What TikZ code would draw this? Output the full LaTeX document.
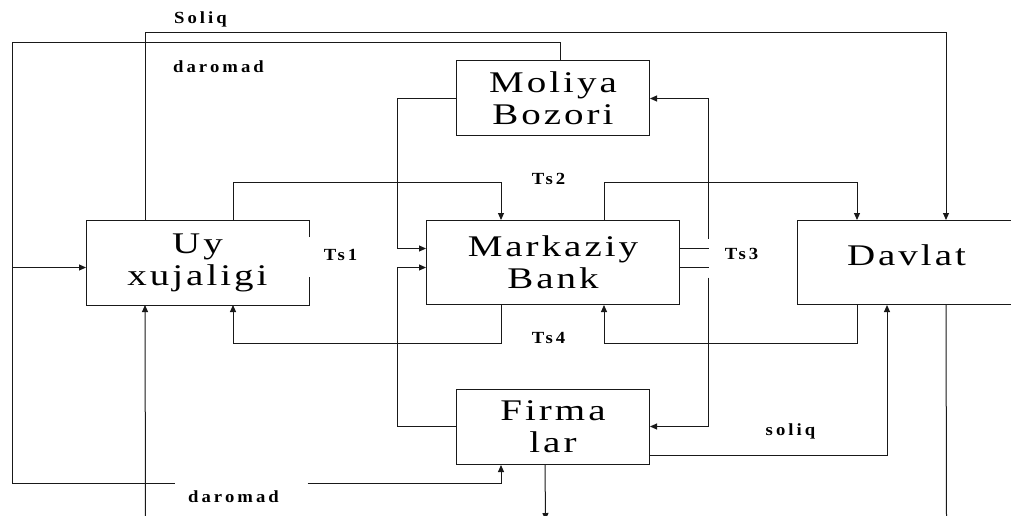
\documentclass[tikz,border=0pt]{standalone}
\usepackage{fontspec}
\setmainfont{Liberation Serif}
\newfontfamily\boxfont[FakeStretch=1.3, LetterSpace=10]{Liberation Serif}
\newfontfamily\tagfont[FakeStretch=1.1, LetterSpace=18]{Liberation Serif}
\usetikzlibrary{arrows.meta,calc}

\tikzset{
  wire/.style={line width=1pt, draw=black!90},
  arr/.style={wire, -{Triangle[length=7pt,width=6pt]}},
  unit/.style={wire, inner sep=0pt, align=center,
               font=\boxfont\fontsize{30}{32}\selectfont},
  tag/.style={inner sep=0pt, font=\tagfont\bfseries\fontsize{17}{19}\selectfont}
}

\begin{document}
\begin{tikzpicture}[x=1pt, y=-1pt]
  \useasboundingbox (0,0) rectangle (1011,515);
  \clip (0,0) rectangle (1011,515);

  % half-point offset keeps the 1pt lines on whole pixels
  \begin{scope}[shift={(0.5,0.5)}]
  % sectors of the economy
  \node[unit, draw=none, minimum width=222pt, minimum height=84pt] (uy) at (197,262) {Uy\\xujaligi};
  \node[unit, minimum width=193pt, minimum height=75pt] (mb) at (552.5,97.5) {Moliya\\Bozori};
  \node[unit, minimum width=253pt, minimum height=84pt] (cb) at (552.5,262) {Markaziy\\Bank};
  \node[unit, minimum width=218pt, minimum height=84pt, text depth=14pt] (dv) at (906,262) {Davlat};
  \node[unit, minimum width=193pt, minimum height=75pt] (fl) at (552.5,426.5) {Firma\\lar};

  % household box, its right side left open in the middle
  \draw[wire] ($(uy.north east)+(0,17)$) -- (uy.north east) -- (uy.north west)
              -- (uy.south west) -- (uy.south east) -- ($(uy.south east)+(0,-28)$);

  % free ends of the open connectors
  \coordinate (tl)   at (12,42);
  \coordinate (bl)   at (12,483);
  \coordinate (gapL) at (174,483);
  \coordinate (gapR) at (307,483);
  \coordinate (jn)   at (12,267);
  \coordinate (ub)   at (145,520);
  \coordinate (fb)   at (545,519.5);
  \coordinate (db)   at (946,520);
  \coordinate (t3a)  at (708,238);
  \coordinate (t3b)  at (708,277);

  % taxes of households
  \draw[arr] ($(uy.north west)+(59,0)$) -- ++(0,-188) -| ($(dv.north west)+(149,0)$);

  % income loop
  \draw[wire] ($(mb.north west)+(104,0)$) |- (tl) -- (bl) -- (gapL);
  \draw[arr] (gapR) -| ($(fl.south west)+(45,0)$);
  \draw[arr] (jn) -- ($(uy.west)+(0,5)$);

  % Ts2 / Ts4 flows
  \draw[arr] ($(uy.north west)+(147,0)$) -- ++(0,-38) -| ($(cb.north west)+(75,0)$);
  \draw[arr] ($(cb.north west)+(178,0)$) -- ++(0,-38) -| ($(dv.north west)+(60,0)$);
  \draw[arr] ($(cb.south west)+(75,0)$) -- ++(0,38) -| ($(uy.south west)+(147,0)$);
  \draw[arr] ($(dv.south west)+(60,0)$) -- ++(0,38) -| ($(cb.south west)+(178,0)$);

  % financial market and firms into the bank
  \draw[arr] ($(mb.west)+(0,0.5)$) -- ++(-59,0) |- ($(cb.west)+(0,-14)$);
  \draw[arr] ($(fl.west)+(0,-0.5)$) -- ++(-59,0) |- ($(cb.west)+(0,5)$);

  % Ts3 flows out of the bank
  \draw[wire] ($(cb.east)+(0,-14)$) -- ++(29,0);
  \draw[arr] (t3a) |- ($(mb.east)+(0,0.5)$);
  \draw[wire] ($(cb.east)+(0,5)$) -- ++(29,0);
  \draw[arr] (t3b) |- ($(fl.east)+(0,-0.5)$);

  % taxes of firms
  \draw[arr] ($(fl.south east)+(0,-10)$) -| ($(dv.south west)+(90,0)$);

  % lines leaving the lower edge
  \draw[arr] (ub) -- ($(uy.south west)+(59,0)$);
  \draw[arr] ($(fl.south west)+(89,0)$) -- (fb);
  \draw[wire] ($(dv.south west)+(149,0)$) -- (db);

  % flow labels
  \node[tag] (lsoliq) at (200,19)  {Soliq};
  \node[tag] (ldar1)  at (218,66)  {daromad};
  \node[tag] (lts1)   at (340,254) {Ts1};
  \node[tag] (lts2)   at (548,178) {Ts2};
  \node[tag] (lts3)   at (741,253) {Ts3};
  \node[tag] (lts4)   at (548,337) {Ts4};
  \node[tag] (lsol2)  at (790,431) {soliq};
  \node[tag] (ldar2)  at (233,496) {daromad};
  \end{scope}
\end{tikzpicture}
\end{document}
